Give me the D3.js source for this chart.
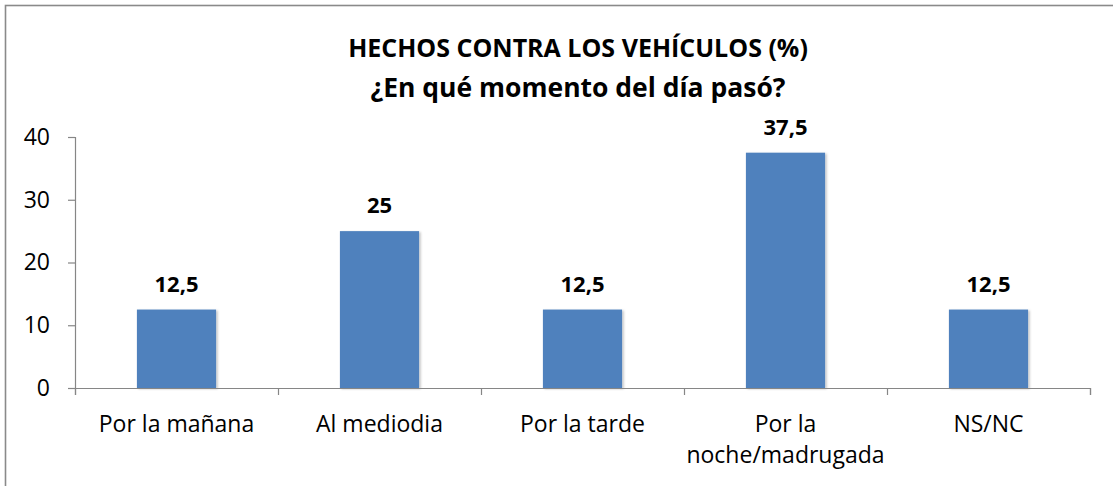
<!DOCTYPE html>
<html>
<head>
<meta charset="utf-8">
<script src="https://cdn.jsdelivr.net/npm/d3@7"></script>
<style>
  body { margin: 0; background: #fff; }
  text { font-family: "Open Sans", Lato, sans-serif; fill: #000; }
</style>
</head>
<body>
<div id="graph"></div>
<script>
// chart data
var categories = ["Por la mañana", "Al mediodia", "Por la tarde", "Por la noche/madrugada", "NS/NC"];
var values = [12.5, 25, 12.5, 37.5, 12.5];
var yTicks = [0, 10, 20, 30, 40];
var titleLines = ["HECHOS CONTRA LOS VEHÍCULOS (%)", "¿En qué momento del día pasó?"];

var width = 1113, height = 486;
var margin = {top: 137, right: 23, bottom: 98, left: 75};

var svg = d3.select('#graph')
			.append('svg')
			.attr('width', width)
			.attr('height', height);

// drop shadow for bars
var defs = svg.append('defs');
var f = defs.append('filter').attr('id', 'shadow')
			.attr('x', '-10%').attr('y', '-10%').attr('width', '130%').attr('height', '130%');
f.append('feDropShadow').attr('dx', 1.5).attr('dy', 1).attr('stdDeviation', 1.2)
 .attr('flood-color', '#000').attr('flood-opacity', 0.25);

// outer frame (runs off the right and bottom edges)
svg.append('rect')
	.attr('x', 5.5).attr('y', 5.5)
	.attr('width', 1200).attr('height', 600)
	.attr('fill', 'none')
	.attr('stroke', '#8a8a8a')
	.attr('stroke-width', 1.6);

var x = d3.scaleBand()
		.domain(categories)
		.range([margin.left, width - margin.right])
		.paddingInner(0.61)
		.paddingOuter(0.305);

var y = d3.scaleLinear()
		.domain([0, 40])
		.range([height - margin.bottom, margin.top]);

// boundary ticks on the category axis
var xb = d3.scaleLinear().domain([0, categories.length]).range([margin.left, width - margin.right]);

var axisColor = '#868686';

// y axis
var yAxis = svg.append('g')
	.attr('transform', `translate(${margin.left},0)`)
	.call(d3.axisLeft(y).tickValues(yTicks).tickSize(7).tickPadding(18));
yAxis.selectAll('line, path').attr('stroke', axisColor).attr('stroke-width', 1.2);
yAxis.selectAll('text').style('font-size', '23px').attr('fill', '#000');

// bars
svg.append('g').attr('id', 'bars')
	.selectAll('rect')
	.data(values)
	.enter().append('rect')
	.attr('x', (d, i) => x(categories[i]))
	.attr('y', d => y(d))
	.attr('width', x.bandwidth())
	.attr('height', d => y(0) - y(d))
	.attr('fill', '#4f81bd')
	.attr('filter', 'url(#shadow)');

// x axis line with boundary ticks
var xAxis = svg.append('g')
	.attr('transform', `translate(0,${y(0)})`)
	.call(d3.axisBottom(xb).tickValues(d3.range(0, categories.length + 1)).tickSize(7).tickSizeOuter(7).tickFormat(''));
xAxis.selectAll('line, path').attr('stroke', axisColor).attr('stroke-width', 1.2);

// category labels
var catAxis = svg.append('g')
	.attr('transform', `translate(0,${y(0)})`)
	.call(d3.axisBottom(x).tickSize(0).tickPadding(28));
catAxis.select('.domain').remove();
catAxis.selectAll('text')
	.style('font-size', '23px')
	.attr('fill', '#000')
	.call(wrap, 190);

function wrap(texts, w) {
	texts.each(function() {
		var t = d3.select(this),
			words = t.text().split(/\s+/),
			yy = t.attr('y'), dy = parseFloat(t.attr('dy')),
			line = [], lineNo = 0,
			tspan = t.text(null).append('tspan').attr('x', 0).attr('y', yy).attr('dy', dy + 'em');
		words.forEach(function(word) {
			line.push(word);
			tspan.text(line.join(' '));
			if (tspan.node().getComputedTextLength() > w && line.length > 1) {
				line.pop();
				tspan.text(line.join(' '));
				line = [word];
				tspan = t.append('tspan').attr('x', 0).attr('y', yy)
						 .attr('dy', (++lineNo * 1.35 + dy) + 'em').text(word);
			}
		});
	});
}

// value labels
var loc = d3.formatLocale({decimal: ',', thousands: '.', grouping: [3], currency: ['', '']});
var fmt = loc.format('~f');
svg.append('g').attr('id', 'labels')
	.selectAll('text')
	.data(values)
	.enter().append('text')
	.attr('x', (d, i) => x(categories[i]) + x.bandwidth() / 2)
	.attr('y', d => y(d) - 18)
	.attr('text-anchor', 'middle')
	.style('font-size', '22px')
	.style('font-weight', 'bold')
	.text(d => fmt(d));

// title
svg.append('g').attr('id', 'title')
	.selectAll('text')
	.data(titleLines)
	.enter().append('text')
	.attr('x', 578)
	.attr('y', (d, i) => 57 + i * 40)
	.attr('text-anchor', 'middle')
	.style('font-size', (d, i) => i ? '26.5px' : '25px')
	.style('font-weight', 'bold')
	.text(d => d);
</script>
</body>
</html>
